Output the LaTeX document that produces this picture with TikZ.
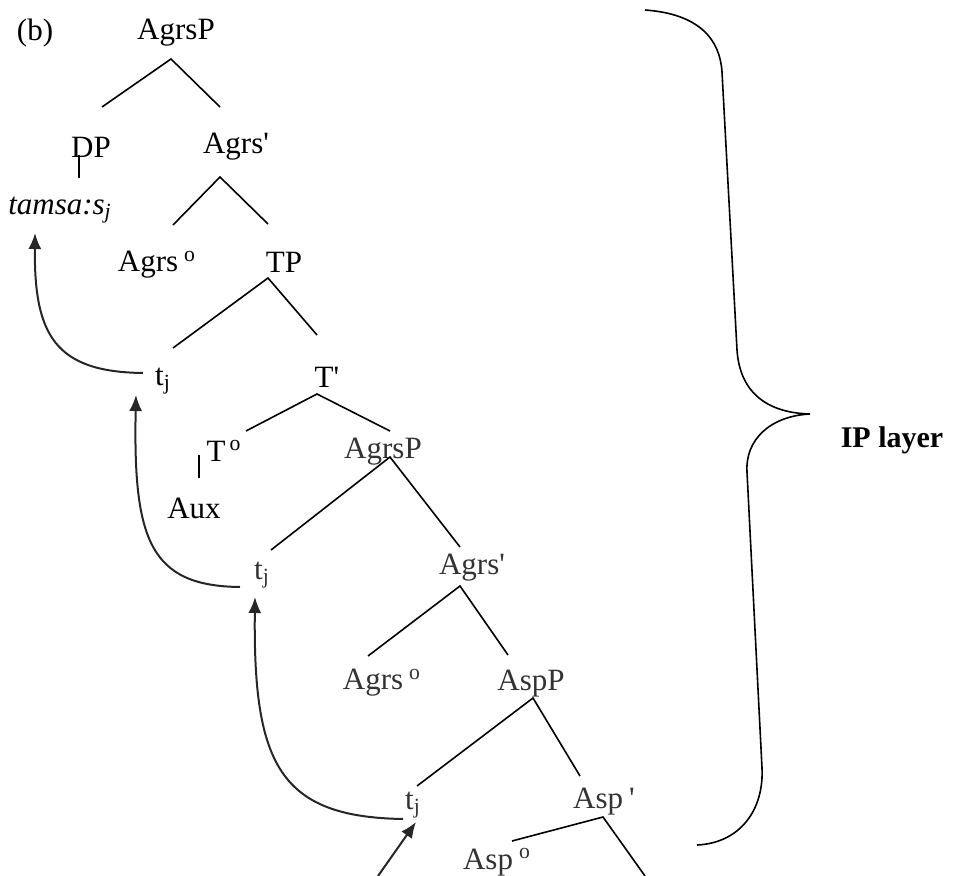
\documentclass[tikz,border=0pt]{standalone}
\usepackage{fontspec}
\newfontfamily\tf{Liberation Serif}
\usetikzlibrary{arrows.meta}
\begin{document}
\begin{tikzpicture}[x=0.5pt,y=-0.5pt,
 lab/.style={font=\tf\fontsize{15.5}{18}\selectfont, inner sep=0pt},
 labg/.style={lab, text=black!80},
 br/.style={line width=0.8pt},
 mv/.style={line width=1pt, -{Latex[length=8pt,width=6.5pt]}, black!85},
 brace/.style={line width=0.8pt},
]
\useasboundingbox (0,0) rectangle (962,876);
% labels
\node[lab] (b) at (35,33) {(b)};
\node[lab] (agrsp1) at (176,33) {AgrsP};
\node[lab] (dp) at (91,147) {DP};
\node[lab] (agrsb1) at (236,147) {Agrs'};
\node[lab] (tamsa) at (60,210) {\itshape tamsa:s\textsubscript{j}};
\node[lab] (agrs01) at (157,265) {Agrs\hspace{3pt}\textsuperscript{o}};
\node[lab] (tp) at (284,262) {TP};
\node[lab] (tj1) at (163,381) {t\textsubscript{j}};
\node[lab] (tbar) at (327,377) {T'};
\node[lab] (t0) at (224,451) {T\hspace{2pt}\textsuperscript{o}};
\node[lab] (aux) at (194,508) {Aux};
\node[labg] (agrsp2) at (383,452) {AgrsP};
\node[labg] (tj2) at (262,575) {t\textsubscript{j}};
\node[labg] (agrsb2) at (472,568) {Agrs'};
\node[labg] (agrs02) at (382,683) {Agrs\hspace{3pt}\textsuperscript{o}};
\node[labg] (aspp) at (531,684) {AspP};
\node[labg] (tj3) at (413,805) {t\textsubscript{j}};
\node[labg] (aspb) at (604,802) {Asp\hspace{3pt}'};
\node[labg] (asp0) at (497,862) {Asp\hspace{3pt}\textsuperscript{o}};
\node[font=\tf\bfseries\fontsize{15}{18}\selectfont, inner sep=0pt] (ip) at (892,440) {IP layer};
% branch points
\coordinate (c1) at (171,59);  \coordinate (c1l) at (102,107); \coordinate (c1r) at (220,107);
\coordinate (c2t) at (79,155); \coordinate (c2b) at (79,178);
\coordinate (c3) at (220,177); \coordinate (c3l) at (173,225); \coordinate (c3r) at (268,224);
\coordinate (c4) at (268,278); \coordinate (c4l) at (173,348); \coordinate (c4r) at (317,335);
\coordinate (c5) at (317,394); \coordinate (c5l) at (246,431); \coordinate (c5r) at (390,431);
\coordinate (c6t) at (199,455); \coordinate (c6b) at (199,478);
\coordinate (c7) at (390,457); \coordinate (c7l) at (271,550); \coordinate (c7r) at (460,547);
\coordinate (c8) at (460,586); \coordinate (c8l) at (368,656); \coordinate (c8r) at (508,655);
\coordinate (c9) at (533,698); \coordinate (c9l) at (417,786); \coordinate (c9r) at (580,776);
\coordinate (c10) at (603,817); \coordinate (c10l) at (512,841); \coordinate (c10r) at (645,876);
\draw[br] (c1l) -- (c1) -- (c1r);
\draw[br] (c2t) -- (c2b);
\draw[br] (c3l) -- (c3) -- (c3r);
\draw[br] (c4l) -- (c4) -- (c4r);
\draw[br] (c5l) -- (c5) -- (c5r);
\draw[br] (c6t) -- (c6b);
\draw[br] (c7l) -- (c7) -- (c7r);
\draw[br] (c8l) -- (c8) -- (c8r);
\draw[br] (c9l) -- (c9) -- (c9r);
\draw[br] (c10l) -- (c10) -- (c10r);
% movement arrows
\coordinate (m1s) at (143,373); \coordinate (m1e) at (35,233);
\coordinate (m2s) at (240,587); \coordinate (m2e) at (136,395);
\coordinate (m3s) at (403,819); \coordinate (m3e) at (255,597);
\coordinate (m4s) at (378,876); \coordinate (m4e) at (416,822);
\draw[mv] (m1s) .. controls (55,372) and (34,335) .. (m1e);
\draw[mv] (m2s) .. controls (150,586) and (133,540) .. (m2e);
\draw[mv] (m3s) .. controls (280,817) and (253,765) .. (m3e);
\draw[mv] (m4s) -- (m4e);
% brace
\coordinate (bt) at (645,10); \coordinate (btip) at (810,414); \coordinate (bb) at (697,845);
\draw[brace] (bt) .. controls (700,14) and (720,40) .. (722,72) -- (737,350)
  .. controls (740,395) and (770,413) .. (btip)
  .. controls (770,416) and (745,440) .. (747,472) -- (762,768)
  .. controls (764,810) and (740,843) .. (bb);
\end{tikzpicture}
\end{document}
